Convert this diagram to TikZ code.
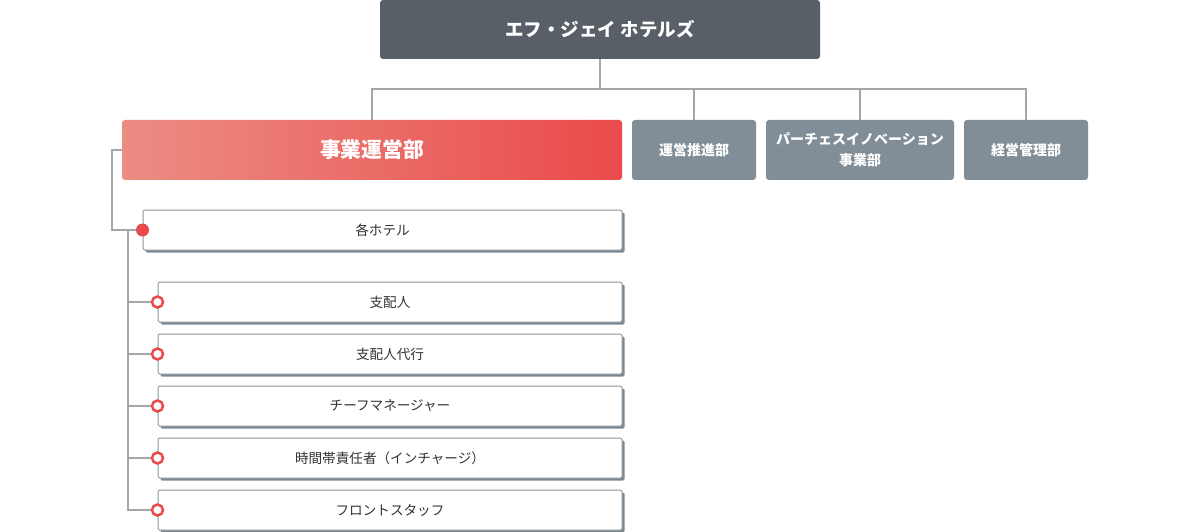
\documentclass[tikz,border=0pt]{standalone}
\usepackage{fontspec}
\setmainfont{Noto Sans CJK JP}
\usetikzlibrary{shadows,calc}
\definecolor{topgray}{HTML}{585F66}
\definecolor{boxgray}{HTML}{818E97}
\definecolor{redL}{HTML}{EB8D83}
\definecolor{redR}{HTML}{EA4A4B}
\definecolor{dotred}{HTML}{E94B4D}
\definecolor{linegray}{HTML}{A2A7AB}
\definecolor{bordergray}{HTML}{8D989F}
\definecolor{shadowgray}{HTML}{7E8A93}
\definecolor{txt}{HTML}{333333}
\tikzset{
  topbox/.style={fill=topgray, rounded corners=3pt, minimum width=440pt, minimum height=59pt, text=white, font=\bfseries\fontsize{18.5}{22}\selectfont, inner sep=0pt},
  redbox/.style={left color=redL, right color=redR, rounded corners=3pt, minimum width=500pt, minimum height=60pt, text=white, font=\bfseries\fontsize{20.8}{24}\selectfont, inner sep=0pt},
  graybox/.style={fill=boxgray, rounded corners=3pt, minimum height=60pt, text=white, font=\bfseries\fontsize{14}{21}\selectfont, inner sep=0pt, align=center},
  itembox/.style={draw=bordergray, line width=1pt, fill=white, rounded corners=1.5pt, minimum height=40pt, text=txt, font=\fontsize{13.6}{16}\selectfont, inner sep=0pt,
    drop shadow={shadow xshift=2.5pt, shadow yshift=-2.5pt, fill=shadowgray, opacity=1}},
  conn/.style={draw=linegray, line width=1.5pt},
  fulldot/.style={circle, fill=dotred, minimum size=13pt, inner sep=0pt},
  ringdot/.style={circle, draw=dotred, line width=2.5pt, fill=white, minimum size=11pt, inner sep=0pt},
}
\begin{document}
\begin{tikzpicture}[x=1pt,y=-1pt]
\useasboundingbox (0,0) rectangle (1200,532);
\fill[white] (0,0) rectangle (1200,532);

\node[topbox] (top) at (600,29.5) {エフ・ジェイ ホテルズ};
\node[redbox] (ops) at (372,150) {事業運営部};
\node[graybox, minimum width=124pt] (promo) at (694,150) {運営推進部};
\node[graybox, minimum width=188pt] (purch) at (860,150) {パーチェスイノベーション\\事業部};
\node[graybox, minimum width=124pt] (mgmt) at (1026,150) {経営管理部};

% top connectors
\coordinate (bar) at (600,89);
\draw[conn] (top.south) -- (bar);
\draw[conn] (ops.north) -- (ops.north |- bar) -- (mgmt.north |- bar) -- (mgmt.north);
\draw[conn] (promo.north |- bar) -- (promo.north);
\draw[conn] (purch.north |- bar) -- (purch.north);

% hotel items
\node[itembox, minimum width=479pt] (hotel) at (382.5,230) {各ホテル};
\node[itembox, minimum width=464pt] (s1) at (390,302) {支配人};
\node[itembox, minimum width=464pt] (s2) at (390,354) {支配人代行};
\node[itembox, minimum width=464pt] (s3) at (390,406) {チーフマネージャー};
\node[itembox, minimum width=464pt] (s4) at (390,458) {時間帯責任者（インチャージ）};
\node[itembox, minimum width=464pt] (s5) at (390,510) {フロントスタッフ};

\coordinate (leftrail) at (112,150);
\draw[conn] (ops.west) -- (leftrail) |- (hotel.west);
\coordinate (spine) at (128,230);
\draw[conn] (spine) |- (s5.west);
\foreach \s in {s1,s2,s3,s4}{
  \draw[conn] (\s.west -| spine) -- (\s.west);
}

\node[fulldot] (d0) at (hotel.west) {};
\foreach \s in {s1,s2,s3,s4,s5}{
  \node[ringdot] (r\s) at (\s.west) {};
}
\end{tikzpicture}
\end{document}
